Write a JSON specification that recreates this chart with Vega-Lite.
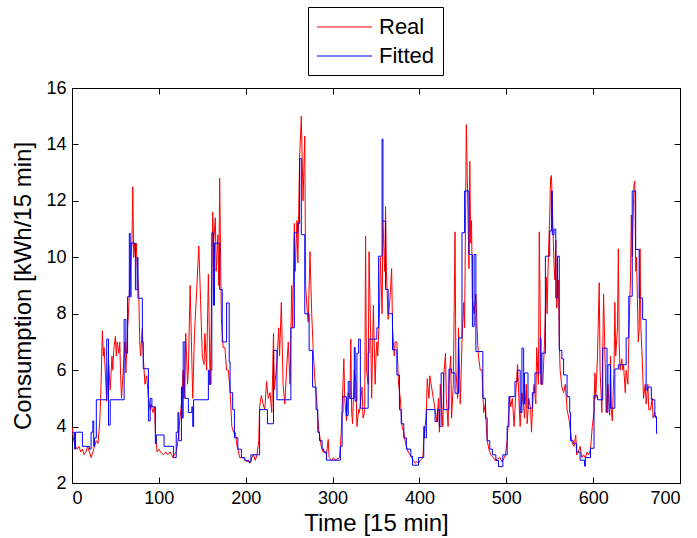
{
  "$schema": "https://vega.github.io/schema/vega-lite/v6.json",
  "width": 608,
  "height": 395,
  "autosize": {"type": "none"},
  "padding": {"left": 72, "top": 88, "right": 17, "bottom": 55},
  "background": "white",
  "config": {
    "font": "Liberation Sans",
    "view": {"stroke": "#000", "strokeWidth": 1},
    "axis": {"grid": false, "domainColor": "#000", "tickColor": "#000", "labelColor": "#000", "titleColor": "#000", "labelFont": "Liberation Sans", "titleFont": "Liberation Sans", "labelFontSize": 18, "titleFontSize": 24, "titleFontWeight": "normal", "tickSize": -6, "labelPadding": 12},
    "legend": {"labelFont": "Liberation Sans"}
  },
  "datasets": {
    "real": [
      {"t":0,"v":4.0},{"t":2,"v":3.5},{"t":4,"v":3.3},{"t":6,"v":3.2},{"t":8,"v":3.3},{"t":10,"v":3.1},{"t":12,"v":3.2},{"t":14,"v":3.0},{"t":16,"v":3.1},{"t":18,"v":3.3},{"t":20,"v":3.1},{"t":22,"v":2.9},{"t":24,"v":3.1},{"t":26,"v":3.3},{"t":28,"v":3.5},{"t":30,"v":3.4},{"t":32,"v":4.2},{"t":33,"v":5.0},{"t":35,"v":7.4},{"t":36,"v":6.5},{"t":37,"v":6.8},{"t":39,"v":5.5},{"t":40,"v":4.9},{"t":42,"v":6.4},{"t":44,"v":5.3},{"t":46,"v":6.5},{"t":47,"v":6.0},{"t":48,"v":6.7},{"t":50,"v":7.2},{"t":51,"v":6.5},{"t":52,"v":7.0},{"t":54,"v":6.6},{"t":55,"v":7.0},{"t":56,"v":5.8},{"t":57,"v":5.0},{"t":59,"v":6.0},{"t":61,"v":7.0},{"t":62,"v":5.9},{"t":64,"v":7.5},{"t":65,"v":8.0},{"t":67,"v":9.5},{"t":69,"v":10.5},{"t":70,"v":12.5},{"t":71,"v":10.0},{"t":72,"v":10.5},{"t":73,"v":10.0},{"t":74,"v":10.5},{"t":75,"v":9.7},{"t":77,"v":8.6},{"t":78,"v":7.0},{"t":79,"v":6.5},{"t":81,"v":7.5},{"t":82,"v":6.5},{"t":84,"v":5.5},{"t":86,"v":5.8},{"t":88,"v":5.0},{"t":90,"v":4.6},{"t":91,"v":4.8},{"t":93,"v":4.5},{"t":95,"v":4.7},{"t":96,"v":3.8},{"t":98,"v":3.1},{"t":100,"v":3.2},{"t":102,"v":3.1},{"t":105,"v":3.0},{"t":108,"v":3.1},{"t":110,"v":3.0},{"t":113,"v":3.1},{"t":116,"v":2.9},{"t":118,"v":3.0},{"t":120,"v":3.1},{"t":122,"v":3.5},{"t":124,"v":4.2},{"t":126,"v":4.8},{"t":128,"v":6.0},{"t":129,"v":5.0},{"t":131,"v":7.3},{"t":133,"v":5.5},{"t":134,"v":6.0},{"t":136,"v":9.0},{"t":139,"v":5.0},{"t":141,"v":7.3},{"t":143,"v":8.5},{"t":146,"v":10.4},{"t":148,"v":8.5},{"t":150,"v":6.5},{"t":152,"v":6.2},{"t":153,"v":7.3},{"t":155,"v":6.0},{"t":157,"v":9.4},{"t":158,"v":7.5},{"t":159,"v":5.5},{"t":160,"v":7.0},{"t":162,"v":11.6},{"t":163,"v":10.5},{"t":165,"v":11.4},{"t":166,"v":9.5},{"t":168,"v":10.8},{"t":169,"v":9.0},{"t":170,"v":12.8},{"t":172,"v":7.8},{"t":174,"v":6.8},{"t":176,"v":6.8},{"t":178,"v":6.0},{"t":180,"v":6.0},{"t":182,"v":5.3},{"t":184,"v":4.0},{"t":186,"v":3.8},{"t":188,"v":3.8},{"t":190,"v":3.3},{"t":191,"v":3.2},{"t":193,"v":2.9},{"t":197,"v":2.9},{"t":201,"v":2.75},{"t":203,"v":2.8},{"t":205,"v":2.7},{"t":207,"v":2.9},{"t":209,"v":3.0},{"t":211,"v":2.8},{"t":213,"v":3.0},{"t":215,"v":3.5},{"t":216,"v":4.7},{"t":218,"v":5.1},{"t":220,"v":4.8},{"t":222,"v":4.6},{"t":224,"v":5.6},{"t":226,"v":5.0},{"t":228,"v":5.2},{"t":230,"v":4.5},{"t":232,"v":7.3},{"t":233,"v":5.3},{"t":236,"v":6.3},{"t":238,"v":7.5},{"t":239,"v":6.5},{"t":241,"v":8.4},{"t":243,"v":5.5},{"t":245,"v":4.8},{"t":247,"v":6.0},{"t":249,"v":7.0},{"t":251,"v":5.5},{"t":253,"v":9.0},{"t":254,"v":7.5},{"t":256,"v":11.2},{"t":257,"v":9.5},{"t":259,"v":11.3},{"t":260,"v":9.8},{"t":262,"v":13.5},{"t":264,"v":15.0},{"t":266,"v":12.0},{"t":268,"v":14.3},{"t":269,"v":9.0},{"t":271,"v":8.0},{"t":272,"v":7.7},{"t":274,"v":10.2},{"t":276,"v":8.0},{"t":278,"v":6.5},{"t":280,"v":5.5},{"t":282,"v":4.8},{"t":284,"v":3.9},{"t":286,"v":3.5},{"t":287,"v":3.3},{"t":289,"v":3.1},{"t":291,"v":3.1},{"t":293,"v":3.0},{"t":295,"v":3.55},{"t":296,"v":2.9},{"t":299,"v":2.8},{"t":301,"v":2.9},{"t":303,"v":2.8},{"t":305,"v":2.85},{"t":308,"v":2.9},{"t":310,"v":3.8},{"t":313,"v":6.4},{"t":314,"v":5.0},{"t":316,"v":4.2},{"t":318,"v":5.2},{"t":320,"v":5.0},{"t":321,"v":7.1},{"t":322,"v":4.5},{"t":323,"v":4.1},{"t":325,"v":6.0},{"t":327,"v":5.5},{"t":328,"v":4.0},{"t":330,"v":4.6},{"t":331,"v":4.5},{"t":334,"v":5.4},{"t":335,"v":4.3},{"t":337,"v":4.5},{"t":338,"v":10.75},{"t":339,"v":6.0},{"t":341,"v":5.5},{"t":342,"v":10.2},{"t":344,"v":7.0},{"t":345,"v":5.0},{"t":347,"v":8.3},{"t":349,"v":5.5},{"t":350,"v":6.5},{"t":351,"v":7.0},{"t":352,"v":6.5},{"t":354,"v":8.0},{"t":355,"v":10.0},{"t":357,"v":8.0},{"t":358,"v":11.3},{"t":360,"v":9.5},{"t":361,"v":11.8},{"t":362,"v":9.5},{"t":364,"v":7.8},{"t":366,"v":8.5},{"t":368,"v":9.6},{"t":369,"v":7.5},{"t":371,"v":6.5},{"t":372,"v":7.0},{"t":374,"v":7.0},{"t":376,"v":5.5},{"t":378,"v":5.0},{"t":380,"v":4.0},{"t":382,"v":3.8},{"t":384,"v":3.4},{"t":385,"v":3.3},{"t":387,"v":3.1},{"t":389,"v":3.0},{"t":391,"v":2.9},{"t":393,"v":2.8},{"t":395,"v":2.7},{"t":397,"v":2.75},{"t":399,"v":2.7},{"t":401,"v":2.8},{"t":404,"v":2.9},{"t":405,"v":3.5},{"t":408,"v":4.5},{"t":409,"v":5.7},{"t":411,"v":5.0},{"t":412,"v":5.8},{"t":414,"v":5.4},{"t":416,"v":5.0},{"t":418,"v":4.6},{"t":420,"v":4.2},{"t":422,"v":5.0},{"t":423,"v":3.8},{"t":424,"v":5.5},{"t":426,"v":4.5},{"t":427,"v":4.0},{"t":428,"v":5.8},{"t":430,"v":6.6},{"t":431,"v":5.0},{"t":433,"v":4.0},{"t":434,"v":5.5},{"t":436,"v":6.5},{"t":437,"v":4.3},{"t":439,"v":5.5},{"t":441,"v":10.9},{"t":442,"v":6.0},{"t":444,"v":5.0},{"t":445,"v":7.5},{"t":447,"v":4.8},{"t":449,"v":7.0},{"t":451,"v":8.4},{"t":452,"v":7.5},{"t":454,"v":14.7},{"t":455,"v":13.0},{"t":457,"v":9.6},{"t":458,"v":13.4},{"t":459,"v":10.5},{"t":460,"v":11.3},{"t":461,"v":8.5},{"t":463,"v":8.0},{"t":465,"v":8.7},{"t":467,"v":7.0},{"t":468,"v":6.5},{"t":470,"v":6.0},{"t":472,"v":6.0},{"t":474,"v":4.5},{"t":476,"v":4.8},{"t":477,"v":4.0},{"t":478,"v":3.5},{"t":480,"v":3.2},{"t":482,"v":3.0},{"t":485,"v":2.9},{"t":487,"v":2.8},{"t":490,"v":2.85},{"t":493,"v":2.9},{"t":495,"v":2.75},{"t":497,"v":2.85},{"t":499,"v":3.0},{"t":501,"v":3.5},{"t":504,"v":5.06},{"t":505,"v":4.7},{"t":507,"v":5.0},{"t":509,"v":4.0},{"t":511,"v":5.2},{"t":513,"v":6.2},{"t":515,"v":4.6},{"t":516,"v":4.0},{"t":518,"v":5.2},{"t":520,"v":4.7},{"t":521,"v":4.3},{"t":523,"v":5.5},{"t":524,"v":4.1},{"t":526,"v":5.0},{"t":528,"v":4.6},{"t":529,"v":3.8},{"t":531,"v":5.2},{"t":532,"v":5.5},{"t":534,"v":4.8},{"t":535,"v":6.8},{"t":537,"v":5.5},{"t":538,"v":10.9},{"t":540,"v":5.5},{"t":542,"v":5.5},{"t":544,"v":7.0},{"t":546,"v":9.3},{"t":547,"v":8.0},{"t":548,"v":9.5},{"t":550,"v":11.5},{"t":551,"v":12.8},{"t":552,"v":12.9},{"t":555,"v":9.7},{"t":556,"v":9.2},{"t":557,"v":10.6},{"t":558,"v":8.2},{"t":560,"v":9.2},{"t":561,"v":7.0},{"t":562,"v":6.0},{"t":564,"v":5.4},{"t":566,"v":5.2},{"t":568,"v":5.5},{"t":570,"v":4.6},{"t":572,"v":4.3},{"t":574,"v":3.8},{"t":576,"v":3.4},{"t":578,"v":3.3},{"t":580,"v":3.7},{"t":581,"v":3.0},{"t":583,"v":3.1},{"t":585,"v":3.3},{"t":587,"v":2.9},{"t":589,"v":3.0},{"t":591,"v":2.9},{"t":593,"v":3.1},{"t":595,"v":3.0},{"t":597,"v":3.2},{"t":599,"v":4.0},{"t":601,"v":4.5},{"t":602,"v":5.9},{"t":603,"v":5.0},{"t":605,"v":6.5},{"t":607,"v":9.1},{"t":608,"v":6.0},{"t":610,"v":4.5},{"t":611,"v":6.5},{"t":612,"v":8.7},{"t":614,"v":6.0},{"t":615,"v":4.5},{"t":617,"v":5.5},{"t":619,"v":4.4},{"t":620,"v":6.5},{"t":621,"v":4.6},{"t":622,"v":4.2},{"t":624,"v":6.0},{"t":625,"v":8.4},{"t":626,"v":6.5},{"t":628,"v":7.5},{"t":629,"v":10.3},{"t":630,"v":7.0},{"t":631,"v":6.0},{"t":633,"v":6.4},{"t":634,"v":6.0},{"t":635,"v":6.2},{"t":637,"v":5.2},{"t":638,"v":6.0},{"t":640,"v":5.5},{"t":641,"v":7.0},{"t":643,"v":9.3},{"t":644,"v":11.5},{"t":645,"v":10.0},{"t":647,"v":12.6},{"t":648,"v":12.7},{"t":649,"v":9.5},{"t":650,"v":10.0},{"t":652,"v":7.0},{"t":653,"v":7.5},{"t":654,"v":10.3},{"t":655,"v":7.5},{"t":657,"v":6.0},{"t":658,"v":5.0},{"t":660,"v":5.5},{"t":661,"v":4.8},{"t":663,"v":5.5},{"t":664,"v":4.6},{"t":666,"v":4.6},{"t":668,"v":5.0},{"t":669,"v":4.3},{"t":671,"v":4.5},{"t":672,"v":4.3}
    ],
    "fit": [
      {"t":0,"v":3.8},{"t":3,"v":3.2},{"t":4,"v":3.8},{"t":12,"v":3.3},{"t":20,"v":3.2},{"t":22,"v":3.8},{"t":24,"v":4.2},{"t":25,"v":3.3},{"t":26,"v":3.6},{"t":28,"v":4.95},{"t":40,"v":7.1},{"t":42,"v":4.05},{"t":44,"v":4.95},{"t":60,"v":7.8},{"t":62,"v":6.6},{"t":64,"v":8.6},{"t":66,"v":10.85},{"t":67,"v":8.6},{"t":68,"v":10.5},{"t":73,"v":8.85},{"t":75,"v":10.0},{"t":76,"v":8.55},{"t":81,"v":7.0},{"t":82,"v":6.05},{"t":88,"v":4.2},{"t":90,"v":5.0},{"t":92,"v":4.7},{"t":96,"v":3.4},{"t":97,"v":3.7},{"t":106,"v":3.3},{"t":117,"v":2.9},{"t":120,"v":3.8},{"t":122,"v":4.5},{"t":123,"v":3.5},{"t":126,"v":5.4},{"t":127,"v":4.3},{"t":128,"v":7.0},{"t":130,"v":5.0},{"t":134,"v":4.5},{"t":138,"v":4.7},{"t":139,"v":4.0},{"t":140,"v":4.95},{"t":157,"v":6.0},{"t":158,"v":5.5},{"t":160,"v":6.0},{"t":161,"v":10.87},{"t":163,"v":8.3},{"t":164,"v":10.5},{"t":170,"v":8.86},{"t":173,"v":7.0},{"t":178,"v":8.38},{"t":181,"v":6.3},{"t":182,"v":5.2},{"t":185,"v":4.6},{"t":187,"v":3.6},{"t":191,"v":3.2},{"t":195,"v":2.9},{"t":199,"v":2.8},{"t":203,"v":2.75},{"t":206,"v":3.0},{"t":216,"v":4.6},{"t":225,"v":4.1},{"t":232,"v":6.7},{"t":236,"v":4.95},{"t":252,"v":7.5},{"t":256,"v":10.87},{"t":260,"v":11.2},{"t":262,"v":13.5},{"t":264,"v":10.8},{"t":268,"v":8.0},{"t":273,"v":6.7},{"t":277,"v":5.4},{"t":281,"v":4.6},{"t":283,"v":3.8},{"t":285,"v":3.5},{"t":288,"v":3.2},{"t":290,"v":3.1},{"t":293,"v":2.81},{"t":309,"v":3.3},{"t":311,"v":4.5},{"t":312,"v":5.06},{"t":316,"v":4.4},{"t":318,"v":5.6},{"t":320,"v":5.0},{"t":325,"v":6.8},{"t":326,"v":4.9},{"t":328,"v":6.6},{"t":330,"v":7.1},{"t":332,"v":4.65},{"t":341,"v":6.6},{"t":342,"v":7.1},{"t":351,"v":7.5},{"t":353,"v":10.04},{"t":357,"v":14.19},{"t":358,"v":11.28},{"t":361,"v":8.86},{"t":364,"v":8.0},{"t":369,"v":6.72},{"t":374,"v":5.83},{"t":377,"v":4.6},{"t":379,"v":4.1},{"t":382,"v":3.6},{"t":385,"v":3.2},{"t":390,"v":2.95},{"t":392,"v":2.63},{"t":399,"v":2.9},{"t":405,"v":4.0},{"t":406,"v":3.6},{"t":408,"v":4.6},{"t":418,"v":4.18},{"t":421,"v":4.6},{"t":423,"v":4.0},{"t":425,"v":5.9},{"t":428,"v":4.6},{"t":434,"v":6.04},{"t":437,"v":5.9},{"t":441,"v":5.18},{"t":445,"v":7.14},{"t":449,"v":10.87},{"t":452,"v":12.35},{"t":457,"v":10.1},{"t":461,"v":7.55},{"t":463,"v":10.1},{"t":465,"v":6.66},{"t":473,"v":5.0},{"t":476,"v":4.3},{"t":478,"v":3.5},{"t":481,"v":3.2},{"t":484,"v":3.0},{"t":488,"v":2.8},{"t":491,"v":2.58},{"t":496,"v":3.0},{"t":501,"v":4.0},{"t":503,"v":5.06},{"t":510,"v":5.6},{"t":513,"v":6.0},{"t":516,"v":4.5},{"t":518,"v":6.78},{"t":520,"v":4.8},{"t":521,"v":5.9},{"t":525,"v":4.65},{"t":530,"v":5.2},{"t":533,"v":5.9},{"t":539,"v":7.14},{"t":540,"v":5.5},{"t":541,"v":6.6},{"t":545,"v":10.04},{"t":550,"v":10.93},{"t":552,"v":12.35},{"t":553,"v":10.8},{"t":555,"v":11.0},{"t":557,"v":8.56},{"t":559,"v":10.04},{"t":561,"v":6.7},{"t":564,"v":6.4},{"t":566,"v":5.83},{"t":570,"v":5.06},{"t":573,"v":4.5},{"t":574,"v":3.5},{"t":577,"v":3.4},{"t":581,"v":3.1},{"t":585,"v":2.81},{"t":590,"v":2.6},{"t":591,"v":2.9},{"t":597,"v":3.23},{"t":601,"v":5.1},{"t":605,"v":4.95},{"t":611,"v":6.78},{"t":616,"v":4.5},{"t":617,"v":6.19},{"t":620,"v":4.65},{"t":625,"v":6.04},{"t":629,"v":6.19},{"t":638,"v":7.14},{"t":641,"v":8.62},{"t":645,"v":12.35},{"t":649,"v":10.28},{"t":653,"v":8.56},{"t":657,"v":7.8},{"t":661,"v":5.3},{"t":663,"v":5.4},{"t":667,"v":4.95},{"t":671,"v":4.35},{"t":673,"v":3.76},{"t":674,"v":3.76}
    ]
  },
  "layer": [
    {
      "data": {"name": "real"},
      "mark": {"type": "line", "strokeWidth": 1, "clip": true},
      "encoding": {
        "x": {"field": "t", "type": "quantitative", "scale": {"domain": [0, 700], "nice": false, "zero": false},
              "axis": {"orient": "bottom", "title": "Time [15 min]", "values": [0,100,200,300,400,500,600,700], "titlePadding": 4}},
        "y": {"field": "v", "type": "quantitative", "scale": {"domain": [2, 16], "nice": false, "zero": false},
              "axis": {"orient": "left", "title": "Consumption [kWh/15 min]", "values": [2,4,6,8,10,12,14,16], "titlePadding": 10}},
        "color": {"datum": "Real", "type": "nominal",
                  "scale": {"domain": ["Real", "Fitted"], "range": ["#ff0000", "#0000ff"]},
                  "legend": {"title": null, "orient": "none", "legendX": 236, "legendY": -81, "direction": "vertical",
                             "strokeColor": "#000", "fillColor": "#fff", "padding": 8,
                             "symbolType": "M-1,0H4", "symbolSize": 484, "symbolStrokeWidth": 1.2,
                             "labelFontSize": 22, "labelColor": "#000", "labelOffset": 39, "rowPadding": 6,
                             "encode": {"symbols": {"update": {"stroke": {"scale": "color", "field": "value"}, "fill": {"value": "transparent"}}}}}}
      }
    },
    {
      "data": {"name": "fit"},
      "mark": {"type": "line", "strokeWidth": 1, "interpolate": "step-after", "clip": true},
      "encoding": {
        "x": {"field": "t", "type": "quantitative", "scale": {"domain": [0, 700], "nice": false, "zero": false},
              "axis": {"orient": "top", "title": null, "labels": false, "values": [0,100,200,300,400,500,600,700]}},
        "y": {"field": "v", "type": "quantitative", "scale": {"domain": [2, 16], "nice": false, "zero": false},
              "axis": {"orient": "right", "title": null, "labels": false, "values": [2,4,6,8,10,12,14,16]}},
        "color": {"datum": "Fitted", "type": "nominal"}
      }
    }
  ],
  "resolve": {"axis": {"x": "independent", "y": "independent"}}
}
